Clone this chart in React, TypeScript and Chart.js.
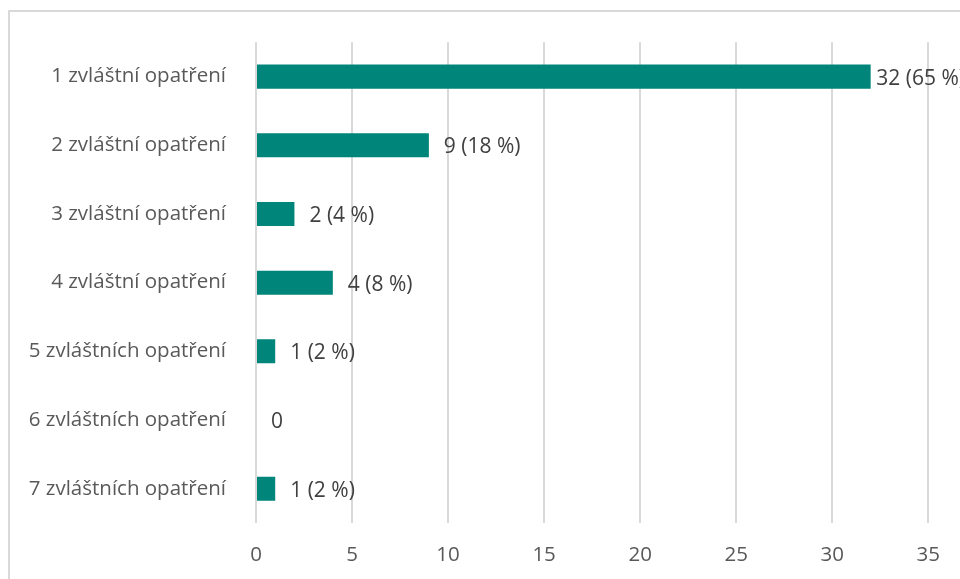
import React, { useEffect, useRef } from "react";
import { Chart, registerables } from "chart.js";

Chart.register(...registerables);

const categories = [
  "1 zvláštní opatření",
  "2 zvláštní opatření",
  "3 zvláštní opatření",
  "4 zvláštní opatření",
  "5 zvláštních opatření",
  "6 zvláštních opatření",
  "7 zvláštních opatření",
];
const counts = [32, 9, 2, 4, 1, 0, 1];
const percents: (number | null)[] = [65, 18, 4, 8, 2, null, 2];
const xTickMin = 0;
const xTickMax = 35;
const xTickStep = 5;

const FONT = "'Open Sans', sans-serif";
const FSIZE = 20.5;
const LSIZE = 21;

const valueLabels = {
  id: "valueLabels",
  afterDatasetsDraw(chart: any) {
    const ctx = chart.ctx;
    const meta = chart.getDatasetMeta(0);
    ctx.save();
    ctx.font = `${LSIZE}px ${FONT}`;
    ctx.fillStyle = "#404040";
    ctx.textBaseline = "middle";
    ctx.textAlign = "left";
    meta.data.forEach((bar: any, i: number) => {
      const v = counts[i];
      const p = percents[i];
      const text = p === null || v === 0 ? `${v}` : `${v} (${p} %)`;
      const w = ctx.measureText(text).width;
      let x = bar.x + 15;
      const limit = chart.width + 5;
      if (x + w > limit) x = Math.max(bar.x + 1, limit - w);
      ctx.fillText(text, x, bar.y + 2);
    });
    ctx.restore();
  },
};

export default function App() {
  const ref = useRef<HTMLCanvasElement>(null);
  useEffect(() => {
    if (!ref.current) return;
    const chart = new Chart(ref.current, {
      type: "bar",
      data: {
        labels: categories,
        datasets: [
          {
            data: counts,
            backgroundColor: "#00857A",
            borderWidth: 0,
            categoryPercentage: 1,
            barPercentage: 0.35,
          },
        ],
      },
      options: {
        indexAxis: "y",
        responsive: false,
        animation: false,
        layout: { padding: { top: 40, right: 30, left: 0, bottom: 0 } },
        plugins: {
          legend: { display: false },
          tooltip: { enabled: false },
        },
        scales: {
          x: {
            min: xTickMin,
            max: xTickMax,
            ticks: {
              stepSize: xTickStep,
              color: "#595959",
              font: { family: FONT, size: FSIZE },
              padding: 20,
            },
            grid: { color: "#d9d9d9", lineWidth: 2, drawTicks: false },
            border: { display: false },
            afterFit: (s: any) => {
              s.height = 56;
            },
          },
          y: {
            ticks: {
              color: "#595959",
              font: { family: FONT, size: FSIZE },
              padding: 30,
            },
            grid: { display: false, drawTicks: false },
            border: { display: false },
            afterFit: (s: any) => {
              s.width = 256;
            },
          },
        },
      },
      plugins: [valueLabels],
    });
    return () => chart.destroy();
  }, []);

  return (
    <div
      style={{
        position: "fixed",
        left: 0,
        top: 0,
        width: 960,
        height: 579,
        overflow: "hidden",
        background: "#fff",
      }}
    >
      <div
        style={{
          position: "absolute",
          left: 8,
          top: 10,
          width: 1000,
          height: 620,
          border: "2px solid #d9d9d9",
          boxSizing: "border-box",
        }}
      />
      <canvas
        ref={ref}
        width={960}
        height={579}
        style={{ position: "absolute", left: 0, top: 0, width: 960, height: 579 }}
      />
    </div>
  );
}
